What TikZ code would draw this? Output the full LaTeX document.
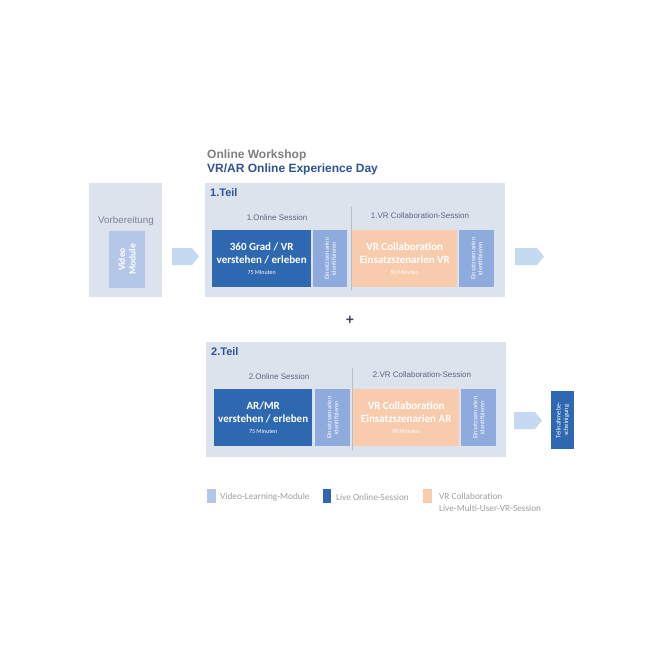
\documentclass[tikz,border=0pt]{standalone}
\usepackage{fontspec}
\setmainfont{Liberation Sans}
\newfontfamily\calfont{Carlito}
\definecolor{panel}{RGB}{221,227,236}
\definecolor{dblue}{RGB}{46,104,176}
\definecolor{sblue}{RGB}{143,170,220}
\definecolor{vblue}{RGB}{180,199,231}
\definecolor{peach}{RGB}{248,203,173}
\definecolor{arrowc}{RGB}{197,217,240}
\definecolor{tblue}{RGB}{47,84,150}
\definecolor{tgray}{RGB}{127,127,127}
\definecolor{lgray}{RGB}{160,160,160}
\definecolor{sess}{RGB}{90,100,130}
\begin{document}
\begin{tikzpicture}[x=1pt,y=-1pt,
  panelbox/.style={fill=panel,draw=none,inner sep=0},
  dbox/.style={fill=dblue,draw=none,text=white,align=center,font=\calfont\bfseries\fontsize{11}{13}\selectfont},
  obox/.style={fill=peach,draw=none,text=white,align=center,font=\calfont\bfseries\fontsize{11}{13}\selectfont},
  sbox/.style={fill=sblue,draw=none},
  stext/.style={text=white,rotate=90,align=center,font=\calfont\fontsize{6.3}{7}\selectfont},
  sesslabel/.style={text=sess,font=\fontsize{8}{9}\selectfont},
  teil/.style={text=tblue,font=\bfseries\fontsize{11}{12}\selectfont,anchor=north west,inner sep=0},
  flowarrow/.style={fill=arrowc,draw=none},
  legtext/.style={text=lgray,font=\calfont\fontsize{9.3}{12}\selectfont,anchor=west,align=left,inner sep=0},
  sep/.style={draw=lgray!70,line width=0.7pt}
]
\useasboundingbox (0,0) rectangle (665,665);
\fill[white] (0,0) rectangle (665,665);

% titles
\node[anchor=west,inner sep=0,text=tgray,font=\bfseries\fontsize{12}{14}\selectfont] (t1) at (207,155) {Online Workshop};
\node[anchor=west,inner sep=0,text=tblue,font=\bfseries\fontsize{12}{14}\selectfont] (t2) at (207,169) {VR/AR Online Experience Day};

% Vorbereitung
\path[panelbox] (89,183) rectangle (162,297);
\node[text=sess!80,font=\fontsize{9.8}{11}\selectfont] (vorb) at (126,221) {Vorbereitung};
\path[fill=vblue] (109,231) rectangle (145,288);
\node[text=white,rotate=90,align=center,font=\calfont\bfseries\fontsize{9.5}{10.5}\selectfont] (vm) at (127,259.5) {Video\\Module};

% arrows
\path[flowarrow] (172,248) -- (192,248) -- (199,256.5) -- (192,265) -- (172,265) -- cycle;
\path[flowarrow] (515,248) -- (537,248) -- (544,256.5) -- (537,265) -- (515,265) -- cycle;
\path[flowarrow] (514,412) -- (535,412) -- (542,420.5) -- (535,429) -- (514,429) -- cycle;

% Teil 1
\path[panelbox] (205,183) rectangle (505,297);
\node[teil] (teil1) at (210,188) {1.Teil};
\node[sesslabel] (os1) at (277,218) {1.Online Session};
\node[sesslabel] (vs1) at (420,216) {1.VR Collaboration-Session};
\draw[sep] (351,207) -- (351,290);
\node[dbox,minimum width=99,minimum height=57,anchor=north west,inner sep=0] (d1) at (212,230) {360 Grad / VR\\verstehen / erleben\\[-2pt]{\fontsize{6}{7}\selectfont\mdseries 75 Minuten}};
\node[sbox,minimum width=34,minimum height=57,anchor=north west,inner sep=0] (s1) at (313,230) {};
\node[stext] at (s1) {Einsatzszenarien\\identifizieren};
\node[obox,minimum width=105,minimum height=57,anchor=north west,inner sep=0] (o1) at (352,230) {VR Collaboration\\Einsatzszenarien VR\\[-2pt]{\fontsize{6}{7}\selectfont\mdseries 90 Minuten}};
\node[sbox,minimum width=35,minimum height=57,anchor=north west,inner sep=0] (s2) at (459,230) {};
\node[stext] at (s2) {Einsatzszenarien\\identifizieren};

% plus
\node[text=sess!70!black,font=\bfseries\fontsize{14}{14}\selectfont] (plus) at (350,320) {+};

% Teil 2
\path[panelbox] (206,342) rectangle (506,457);
\node[teil] (teil2) at (211,347) {2.Teil};
\node[sesslabel] (os2) at (279,377) {2.Online Session};
\node[sesslabel] (vs2) at (422,375) {2.VR Collaboration-Session};
\draw[sep] (352,368) -- (352,450);
\node[dbox,minimum width=98,minimum height=57,anchor=north west,inner sep=0] (d2) at (214,389) {AR/MR\\verstehen / erleben\\[-2pt]{\fontsize{6}{7}\selectfont\mdseries 75 Minuten}};
\node[sbox,minimum width=35,minimum height=57,anchor=north west,inner sep=0] (s3) at (315,389) {};
\node[stext] at (s3) {Einsatzszenarien\\identifizieren};
\node[obox,minimum width=106,minimum height=57,anchor=north west,inner sep=0] (o2) at (353,389) {VR Collaboration\\Einsatzszenarien AR\\[-2pt]{\fontsize{6}{7}\selectfont\mdseries 90 Minuten}};
\node[sbox,minimum width=35,minimum height=57,anchor=north west,inner sep=0] (s4) at (461,389) {};
\node[stext] at (s4) {Einsatzszenarien\\identifizieren};

% Teilnahmebescheinigung
\node[fill=dblue,minimum width=23,minimum height=58,anchor=north west,inner sep=0] (tb) at (551,391) {};
\node[stext,font=\calfont\fontsize{6.5}{7.5}\selectfont] at (tb) {Teilnahmebe-\\scheinigung};

% legend
\path[fill=vblue] (207,489) rectangle (216,503);
\node[legtext] (l1) at (220,497) {Video-Learning-Module};
\path[fill=dblue] (323,489) rectangle (331,503);
\node[legtext] (l2) at (336,497) {Live Online-Session};
\path[fill=peach] (423,489) rectangle (432,503);
\node[legtext,anchor=north west] (l3) at (439,493) {VR Collaboration\\Live-Multi-User-VR-Session};
\end{tikzpicture}
\end{document}
